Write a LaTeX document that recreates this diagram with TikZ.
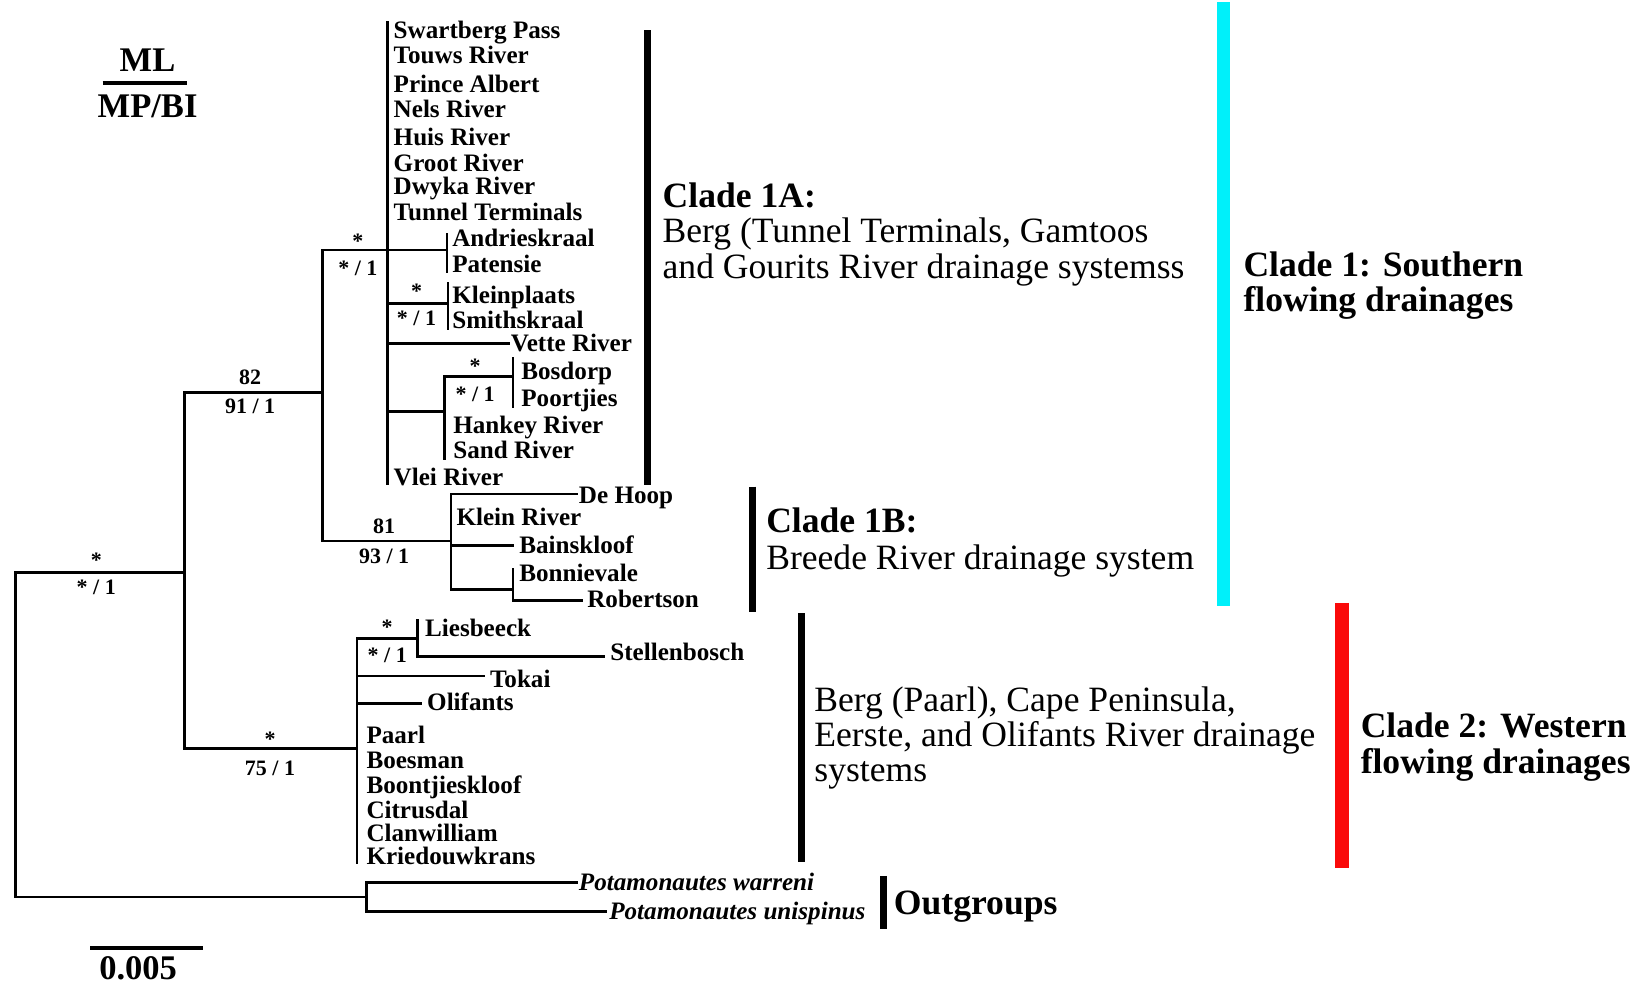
\documentclass[tikz,border=0pt]{standalone}
\usepackage{fontspec}
\setmainfont{Liberation Serif}
\definecolor{cladecyan}{RGB}{0,240,250}
\definecolor{cladered}{RGB}{250,10,10}
\begin{document}
\begin{tikzpicture}[x=1pt,y=-1pt,
  br/.style={line width=2.5pt,line cap=rect},
  taxon/.style={anchor=base west,inner sep=0pt,font=\bfseries\fontsize{24}{24}\selectfont},
  itaxon/.style={anchor=base west,inner sep=0pt,font=\bfseries\itshape\fontsize{24}{24}\selectfont},
  supp/.style={anchor=base,inner sep=0pt,font=\bfseries\fontsize{21}{21}\selectfont},
  big/.style={anchor=base west,inner sep=0pt,font=\bfseries\fontsize{34}{34}\selectfont},
  desc/.style={anchor=base west,inner sep=0pt,font=\fontsize{34}{34}\selectfont},
  bar/.style={line width=7pt},
]
\useasboundingbox (0,0) rectangle (1568,942);
% legend
\node[anchor=base,inner sep=0pt,font=\bfseries\fontsize{33}{33}\selectfont] (ml) at (141,68) {ML};
\node[anchor=base,inner sep=0pt,font=\bfseries\fontsize{33}{33}\selectfont] (mpbi) at (141,112) {MP/BI};
\coordinate (l1) at (98,79); \coordinate (l2) at (179,79);
\draw[line width=4pt] (l1) -- (l2);
% scale bar
\coordinate (s1) at (86,906); \coordinate (s2) at (194,906);
\draw[line width=4pt] (s1) -- (s2);
\node[anchor=base,inner sep=0pt,font=\bfseries\fontsize{33}{33}\selectfont] (scale) at (132,936) {0.005};
% internal nodes
\coordinate (R) at (15,702);
\coordinate (A) at (176,547);
\coordinate (O) at (350,857);
\coordinate (B) at (308,375);
\coordinate (C2) at (341,715);
\coordinate (C1A) at (370,239);
\coordinate (C1B) at (431,517);
\draw[br] (R) |- (A); \draw[br] (R) |- (O);
\draw[br] (A) |- (B); \draw[br] (A) |- (C2);
\draw[br] (B) |- (C1A); \draw[br] (B) |- (C1B);
% clade 1A
\coordinate (c1at) at (370,21); \coordinate (c1ab) at (370,462);
\draw[br] (c1at) -- (c1ab);
\coordinate (AP) at (427,239); \coordinate (APt) at (427,224); \coordinate (APb) at (427,260);
\draw[br] (C1A) -- (AP); \draw[br] (APt) -- (APb);
\coordinate (KS) at (428,290); \coordinate (KSt) at (428,271); \coordinate (KSb) at (428,314);
\draw[br] (C1A |- KS) -- (KS); \draw[br] (KSt) -- (KSb);
\coordinate (vette) at (486,328);
\draw[br] (C1A |- vette) -- (vette);
\coordinate (H) at (425,393); \coordinate (Hb) at (425,438);
\coordinate (BP) at (490,360); \coordinate (BPt) at (490,342); \coordinate (BPb) at (490,389);
\draw[br] (C1A |- H) -- (H); \draw[br] (H |- BP) -- (Hb);
\draw[br] (H |- BP) -- (BP); \draw[br] (BPt) -- (BPb);
% clade 1B
\coordinate (dehoop) at (551,472); \coordinate (bains) at (490,521);
\coordinate (BR) at (490,563); \coordinate (BRt) at (490,544); \coordinate (robert) at (556,574);
\draw[br] (C1B) |- (dehoop); \draw[br] (C1B) |- (bains); \draw[br] (C1B) |- (BR);
\draw[br] (BRt) -- (BR |- robert) -- (robert);
% clade 2
\coordinate (C2b) at (341,824);
\coordinate (LS) at (399,610); \coordinate (LSt) at (399,593); \coordinate (stell) at (577,627);
\coordinate (tokai) at (462,646); \coordinate (olif) at (402,672);
\draw[br] (C2) |- (LS); \draw[br] (C2) |- (tokai); \draw[br] (C2) |- (olif); \draw[br] (C2) -- (C2b);
\draw[br] (LSt) -- (LS |- stell) -- (stell);
% outgroups
\coordinate (warr) at (551,843); \coordinate (unis) at (579,871);
\draw[br] (O) |- (warr); \draw[br] (O) |- (unis);
% taxa
\node[taxon] (t1) at (376,37) {Swartberg Pass};
\node[taxon] (t2) at (376,61) {Touws River};
\node[taxon] (t3) at (376,88) {Prince Albert};
\node[taxon] (t4) at (376,112) {Nels River};
\node[taxon] (t5) at (376,139) {Huis River};
\node[taxon] (t6) at (376,164) {Groot River};
\node[taxon] (t7) at (376,186) {Dwyka River};
\node[taxon] (t8) at (376,211) {Tunnel Terminals};
\node[taxon] (t9) at (432,236) {Andrieskraal};
\node[taxon] (t10) at (432,260) {Patensie};
\node[taxon] (t11) at (432,290) {Kleinplaats};
\node[taxon] (t12) at (432,314) {Smithskraal};
\node[taxon] (t13) at (488,336) {Vette River};
\node[taxon] (t14) at (498,363) {Bosdorp};
\node[taxon] (t15) at (498,388) {Poortjies};
\node[taxon] (t16) at (433,414) {Hankey River};
\node[taxon] (t17) at (433,438) {Sand River};
\node[taxon] (t18) at (376,464) {Vlei River};
\node[taxon] (t19) at (553,481) {De Hoop};
\node[taxon] (t20) at (436,502) {Klein River};
\node[taxon] (t21) at (496,529) {Bainskloof};
\node[taxon] (t22) at (496,556) {Bonnievale};
\node[taxon] (t23) at (561,580) {Robertson};
\node[taxon] (t24) at (406,608) {Liesbeeck};
\node[taxon] (t25) at (583,631) {Stellenbosch};
\node[taxon] (t26) at (468,657) {Tokai};
\node[taxon] (t27) at (408,679) {Olifants};
\node[taxon] (t28) at (350,710) {Paarl};
\node[taxon] (t29) at (350,734) {Boesman};
\node[taxon] (t30) at (350,758) {Boontjieskloof};
\node[taxon] (t31) at (350,782) {Citrusdal};
\node[taxon] (t32) at (350,804) {Clanwilliam};
\node[taxon] (t33) at (350,826) {Kriedouwkrans};
\node[itaxon] (t34) at (553,851) {Potamonautes warreni};
\node[itaxon] (t35) at (582,879) {Potamonautes unispinus};
% support values
\node[supp] (s1a) at (92,542) {*};   \node[supp] (s1b) at (92,568) {* / 1};
\node[supp] (s2a) at (239,367) {82};  \node[supp] (s2b) at (239,395) {91 / 1};
\node[supp] (s3a) at (258,713) {*};  \node[supp] (s3b) at (258,741) {75 / 1};
\node[supp] (s4a) at (342,237) {*};  \node[supp] (s4b) at (342,263) {* / 1};
\node[supp] (s5a) at (367,510) {81};  \node[supp] (s5b) at (367,538) {93 / 1};
\node[supp] (s6a) at (398,285) {*};  \node[supp] (s6b) at (398,311) {* / 1};
\node[supp] (s7a) at (454,357) {*};  \node[supp] (s7b) at (454,384) {* / 1};
\node[supp] (s8a) at (370,606) {*};  \node[supp] (s8b) at (370,633) {* / 1};
% clade bars
\coordinate (b1t) at (619,29); \coordinate (b1b) at (619,463);
\draw[bar] (b1t) -- (b1b);
\coordinate (b2t) at (719,465); \coordinate (b2b) at (719,585);
\draw[bar] (b2t) -- (b2b);
\coordinate (b3t) at (766,586); \coordinate (b3b) at (766,824);
\draw[bar] (b3t) -- (b3b);
\coordinate (b4t) at (844,837); \coordinate (b4b) at (844,888);
\draw[bar] (b4t) -- (b4b);
\coordinate (c1t) at (1169,2); \coordinate (c1b) at (1169,579);
\draw[line width=12pt,cladecyan] (c1t) -- (c1b);
\coordinate (c2t) at (1282,576); \coordinate (c2b) at (1282,829);
\draw[line width=13pt,cladered] (c2t) -- (c2b);
% clade texts
\node[big] (k1a) at (633,198) {Clade 1A:};
\node[desc] (k1a2) at (633,232) {Berg (Tunnel Terminals, Gamtoos};
\node[desc] (k1a3) at (633,266) {and Gourits River drainage systemss};
\node[big] (k1b) at (732,509) {Clade 1B:};
\node[desc] (k1b2) at (732,544) {Breede River drainage system};
\node[big] (k1) at (1188,264) {Clade 1: Southern};
\node[big] (k1x) at (1188,298) {flowing drainages};
\node[desc] (k2a) at (778,680) {Berg (Paarl), Cape Peninsula,};
\node[desc] (k2b) at (778,713) {Eerste, and Olifants River drainage};
\node[desc] (k2c) at (778,747) {systems};
\node[big] (k2) at (1300,705) {Clade 2: Western};
\node[big] (k2x) at (1300,739) {flowing drainages};
\node[big] (og) at (854,874) {Outgroups};
\end{tikzpicture}
\end{document}
